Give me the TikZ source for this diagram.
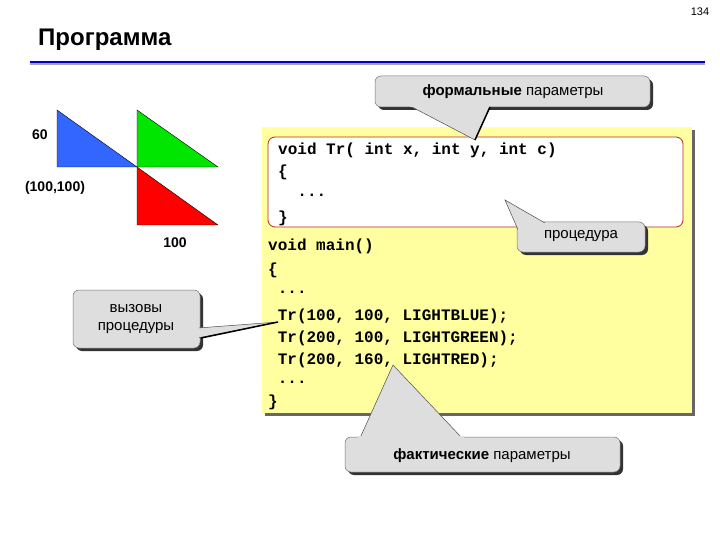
\documentclass[tikz,border=0pt]{standalone}
\usepackage{fontspec}
\setmainfont{Liberation Sans}
\newfontfamily\codefont{Liberation Mono}
\definecolor{tblue}{RGB}{51,102,255}
\definecolor{tgreen}{RGB}{0,230,0}
\definecolor{tred}{RGB}{255,0,0}
\definecolor{codeyellow}{RGB}{255,255,160}
\definecolor{codered}{RGB}{190,40,30}
\begin{document}
\begin{tikzpicture}[x=1pt,y=-1pt,
  code/.style={anchor=west,inner sep=0pt,font=\codefont\bfseries\fontsize{16}{16}\selectfont},
  lbl/.style={inner sep=0pt,font=\bfseries\fontsize{14}{14}\selectfont},
  ctext/.style={inner sep=0pt,align=center,font=\fontsize{15}{18}\selectfont},
  cfill/.style={fill=black!13,draw=black!55,line width=0.5pt,rounded corners=6pt},
  cshadow/.style={fill=black!80,rounded corners=6pt}]
\useasboundingbox (0,0) rectangle (720,540);
\node[inner sep=0pt,font=\fontsize{11}{11}\selectfont] (pg) at (700,12) {134};
\node[anchor=west,inner sep=0pt,font=\bfseries\fontsize{24}{24}\selectfont] (title) at (38,40) {Программа};
\draw[black!35,line width=1.5pt] (30,64) -- (705,64);
\draw[blue!80!black,line width=1.5pt] (30,62) -- (705,62);
% triangles
\filldraw[draw=black,fill=tblue] (57,110) -- (57,167) -- (137,167) -- cycle;
\filldraw[draw=black,fill=tgreen] (137,110) -- (137,167) -- (218,167) -- cycle;
\filldraw[draw=black,fill=tred] (137,167) -- (137,225) -- (218,225) -- cycle;
\node[lbl] (l60) at (40,135) {60};
\node[lbl] (l100100) at (55,188) {(100,100)};
\node[lbl] (l100) at (175,243) {100};
% yellow code box
\fill[black!60] (265,130) rectangle (695,416);
\fill[codeyellow] (262,127) rectangle (692,413);
\draw[codered,fill=white,rounded corners=7pt,line width=0.8pt] (268,137) rectangle (683,227);
\node[code] (c1) at (278,150) {void Tr( int x, int y, int c)};
\node[code] (c2) at (278,172) {\{};
\node[code] (c3) at (278,195) {\ \ ...};
\node[code] (c4) at (278,218) {\}};
\node[code] (m1) at (268,246) {void main()};
\node[code] (m2) at (268,270) {\{};
\node[code] (m3) at (268,292) {\ ...};
\node[code] (m4) at (268,316) {\ Tr(100, 100, LIGHTBLUE);};
\node[code] (m5) at (268,338) {\ Tr(200, 100, LIGHTGREEN);};
\node[code] (m6) at (268,360) {\ Tr(200, 160, LIGHTRED);};
\node[code] (m7) at (268,382) {\ ...};
\node[code] (m8) at (268,402) {\}};
% callout: formal parameters
\fill[cshadow] (378,79) rectangle (653,110);
\fill[cfill] (375,76) rectangle (650,107);
\fill[black!13,draw=black!70,line width=0.5pt] (410,106) -- (475,140) -- (490,106);
\fill[black!13] (410,104) -- (490,104) -- (490,107) -- (410,107) -- cycle;
\draw[black,line width=1.5pt] (475,140) -- (490,107);
\node[ctext] (fp) at (513,92) {\textbf{формальные} параметры};
% callout: procedure
\fill[cshadow] (520,225) rectangle (648,255);
\fill[cfill] (517,222) rectangle (645,252);
\fill[black!13,draw=black!70,line width=0.5pt] (519,232) -- (505,200) -- (545,223);
\fill[black!13] (518,223) -- (548,223) -- (548,233) -- (518,233) -- cycle;
\node[ctext] (pr) at (581,236) {процедура};
% callout: calls
\fill[cshadow] (76,293) rectangle (203,351);
\fill[cfill] (73,290) rectangle (200,348);
\fill[black!13,draw=black!70,line width=0.5pt] (198,328) -- (278,322) -- (198,338);
\fill[black!13] (195,327) -- (199,327) -- (199,339) -- (195,339) -- cycle;
\draw[black,line width=1.5pt] (278,322) -- (201,338);
\node[ctext] (vz) at (136,319) {вызовы\\процедуры};
% callout: actual parameters
\fill[cshadow] (348,440) rectangle (623,475);
\fill[cfill] (345,437) rectangle (620,472);
\fill[black!13,draw=black!70,line width=0.5pt] (360,438) -- (393,365) -- (462,438);
\fill[black!13] (358,436) -- (464,436) -- (464,440) -- (358,440) -- cycle;
\node[ctext] (fa) at (482,456) {\textbf{фактические} параметры};
\end{tikzpicture}
\end{document}
